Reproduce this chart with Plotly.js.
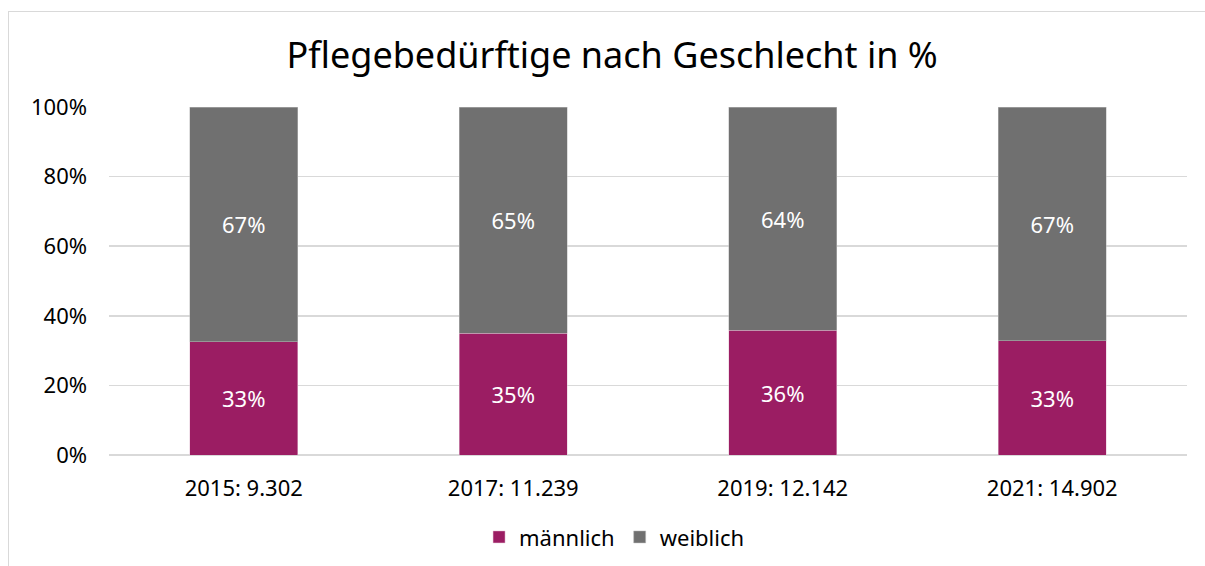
<!DOCTYPE html>
<html>
<head>
<meta charset="utf-8">
<script src="https://cdn.plot.ly/plotly-3.0.1.min.js"></script>
<style>
  html, body { margin: 0; padding: 0; background: #ffffff; }
  body { width: 1205px; height: 566px; overflow: hidden; position: relative; }
  #frame { position: absolute; left: 8px; top: 11px; width: 1220px; height: 600px; border: 1.5px solid #d9d9d9; box-sizing: border-box; }
  #chart { position: absolute; left: 0; top: 0; width: 1205px; height: 566px; }
</style>
</head>
<body>
<div id="frame"></div>
<div id="chart"></div>
<script>
const categories = ["2015: 9.302", "2017: 11.239", "2019: 12.142", "2021: 14.902"];
const maennlich = [32.6, 35.0, 35.9, 32.9];
const weiblich = [67.4, 65.0, 64.1, 67.1];
const seriesNames = ["männlich", "weiblich"];
const yTickVals = [0, 20, 40, 60, 80, 100];
const yTickText = ["0%", "20%", "40%", "60%", "80%", "100%"];

const font = "Noto Sans, Open Sans, sans-serif";

const traces = [
  {
    type: "bar", name: seriesNames[0], x: categories, y: maennlich,
    marker: { color: "#9b1d63", line: { color: "#e6c6d8", width: 0.5 } },
    texttemplate: "%{y:.0f}%", textposition: "inside", insidetextanchor: "middle",
    textfont: { color: "#ffffff", size: 22, family: font },
    hoverinfo: "skip"
  },
  {
    type: "bar", name: seriesNames[1], x: categories, y: weiblich,
    marker: { color: "#707070", line: { color: "#bdbdbd", width: 0.5 } },
    texttemplate: "%{y:.0f}%", textposition: "inside", insidetextanchor: "middle",
    textfont: { color: "#ffffff", size: 22, family: font },
    hoverinfo: "skip"
  }
];

const layout = {
  width: 1205, height: 566,
  paper_bgcolor: "rgba(0,0,0,0)", plot_bgcolor: "rgba(0,0,0,0)",
  barmode: "stack", bargap: 0.6,
  margin: { l: 109, r: 18, t: 107, b: 111 },
  font: { family: font, color: "#000000", size: 22 },
  title: { text: "Pflegebedürftige nach Geschlecht in %", font: { size: 36, family: font, color: "#000000" },
           x: 0.508, xanchor: "center", yref: "container", y: 0.903, yanchor: "middle" },
  xaxis: { type: "category", showgrid: false, showline: false, ticks: "", zeroline: false,
           tickfont: { size: 22, family: font, color: "#000000" }, ticklabelstandoff: 18 },
  yaxis: { range: [0, 100], tickmode: "array", tickvals: yTickVals, ticktext: yTickText,
           showgrid: true, gridcolor: "#d9d9d9", gridwidth: 1.5,
           zeroline: true, zerolinecolor: "#d9d9d9", zerolinewidth: 1.5, showline: false, ticks: "",
           tickfont: { size: 22, family: font, color: "#000000" }, ticklabelstandoff: 21 },
  showlegend: true,
  legend: { orientation: "h", xref: "container", x: 0.51, xanchor: "center", yref: "container", y: 0.051, yanchor: "middle",
            font: { size: 22, family: font, color: "#000000" }, itemwidth: 30, traceorder: "normal" }
};

Plotly.newPlot("chart", traces, layout, { staticPlot: true, displayModeBar: false });
</script>
</body>
</html>
